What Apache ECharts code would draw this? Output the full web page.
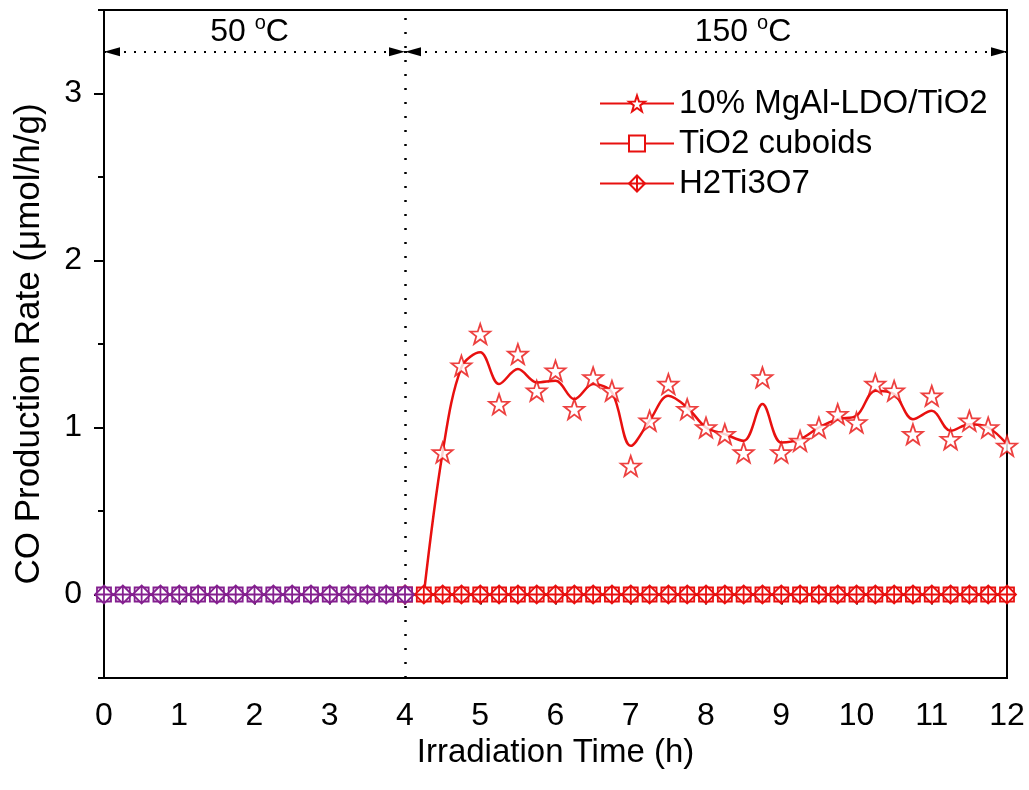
<!DOCTYPE html>
<html>
<head>
<meta charset="utf-8">
<script src="https://cdn.jsdelivr.net/npm/echarts@6/dist/echarts.min.js"></script>
<style>
  html, body { margin: 0; padding: 0; background: #fff; }
  #main { width: 1029px; height: 790px; }
</style>
</head>
<body>
<div id="main"></div>
<script>
// time axis (h) for the zero-rate samples
var times50 = [0, 0.25, 0.5, 0.75, 1, 1.25, 1.5, 1.75, 2, 2.25, 2.5, 2.75, 3, 3.25, 3.5, 3.75, 4];
var rate50 = [0, 0, 0, 0, 0, 0, 0, 0, 0, 0, 0, 0, 0, 0, 0, 0, 0];
var times150 = [4, 4.25, 4.5, 4.75, 5, 5.25, 5.5, 5.75, 6, 6.25, 6.5, 6.75, 7, 7.25, 7.5, 7.75, 8,
    8.25, 8.5, 8.75, 9, 9.25, 9.5, 9.75, 10, 10.25, 10.5, 10.75, 11, 11.25, 11.5, 11.75, 12];
var rate150 = [0, 0, 0, 0, 0, 0, 0, 0, 0, 0, 0, 0, 0, 0, 0, 0, 0,
    0, 0, 0, 0, 0, 0, 0, 0, 0, 0, 0, 0, 0, 0, 0, 0];

// 10% MgAl-LDO/TiO2 measured points (stars)
var starTimes = [4.5, 4.75, 5, 5.25, 5.5, 5.75, 6, 6.25, 6.5, 6.75, 7, 7.25, 7.5, 7.75, 8,
    8.25, 8.5, 8.75, 9, 9.25, 9.5, 9.75, 10, 10.25, 10.5, 10.75, 11, 11.25, 11.5, 11.75, 12];
var starRate = [0.85, 1.37, 1.56, 1.14, 1.44, 1.22, 1.34, 1.11, 1.30, 1.22, 0.77, 1.04, 1.26, 1.11, 1.0,
    0.96, 0.85, 1.30, 0.85, 0.92, 1.0, 1.08, 1.03, 1.26, 1.22, 0.96, 1.19, 0.93, 1.04, 1.0, 0.89];

// smoothed curve drawn through the stars
var curveTimes = [4.25, 4.5, 4.75, 5, 5.25, 5.5, 5.75, 6, 6.25, 6.5, 6.75, 7, 7.25, 7.5, 7.75, 8,
    8.25, 8.5, 8.75, 9, 9.25, 9.5, 9.75, 10, 10.25, 10.5, 10.75, 11, 11.25, 11.5, 11.75, 12];
var curveRate = [0, 0.85, 1.36, 1.45, 1.26, 1.35, 1.27, 1.28, 1.17, 1.26, 1.21, 0.89, 1.04, 1.19, 1.12, 1.0,
    0.96, 0.92, 1.14, 0.91, 0.93, 1.0, 1.05, 1.07, 1.22, 1.2, 1.05, 1.1, 0.98, 1.02, 1.0, 0.9];

var xTicks = [0, 1, 2, 3, 4, 5, 6, 7, 8, 9, 10, 11, 12];
var xMinorTicks = [0.5, 1.5, 2.5, 3.5, 4.5, 5.5, 6.5, 7.5, 8.5, 9.5, 10.5, 11.5];
var yTicks = [0, 1, 2, 3];
var yMinorTicks = [-0.5, 0.5, 1.5, 2.5, 3.5];

var switchTime = 4;
var arrowLevel = 3.25;
var legendNames = ['10% MgAl-LDO/TiO2', 'TiO2 cuboids', 'H2Ti3O7'];

var RED = '#e8100f';
var PURPLE = '#84208f';
var FONT = 'Liberation Sans, Arial, sans-serif';
var FS = 32;

var starPath = 'path://M0,-10 L2.35,-3.24 L9.51,-3.09 L3.8,1.24 L5.88,8.09 L0,4 L-5.88,8.09 L-3.8,1.24 L-9.51,-3.09 L-2.35,-3.24 Z';
var diamondPath = 'path://M0,-10 L10,0 L0,10 L-10,0 Z M0,-10 L0,10 M-10,0 L10,0';

function pairs(xs, ys) {
    return xs.map(function (x, i) { return [x, ys[i]]; });
}

var myChart = echarts.init(document.getElementById('main'));

var tempLabel = function (txt, dx) {
    return {
        show: true,
        position: 'middle',
        distance: 2,
        offset: [dx, 0],
        formatter: txt,
        color: '#000',
        fontFamily: FONT,
        fontSize: FS,
        rich: {
            s: { fontSize: 20, fontFamily: FONT, color: '#000', padding: [0, 0, 16, 0] }
        }
    };
};

var arrowEnd = function (coord, label) {
    var item = { coord: coord, symbol: 'triangle', symbolSize: [9, 16], symbolOffset: [0, 8] };
    if (label) item.label = label;
    return item;
};

option = {
    animation: false,
    backgroundColor: '#fff',
    textStyle: { fontFamily: FONT },
    grid: {
        left: 104, right: 22, top: 10, bottom: 112,
        show: true, borderColor: '#000', borderWidth: 2
    },
    legend: {
        data: legendNames,
        orient: 'vertical',
        left: 594,
        top: 82,
        itemWidth: 74,
        itemHeight: 20,
        itemGap: 7,
        textStyle: { fontSize: 33, color: '#000', fontFamily: FONT }
    },
    xAxis: [{
        type: 'value',
        min: 0, max: 12, interval: 1,
        name: 'Irradiation Time (h)',
        nameLocation: 'middle',
        nameGap: 43,
        nameTextStyle: { fontSize: 33, color: '#000', fontFamily: FONT },
        axisLine: { lineStyle: { color: '#000', width: 2 } },
        axisTick: { customValues: xTicks, length: 10, lineStyle: { color: '#000', width: 2 } },
        axisLabel: { customValues: xTicks, fontSize: FS, color: '#000', margin: 22, fontFamily: FONT },
        splitLine: { show: false }
    }, {
        type: 'value',
        min: 0, max: 12, interval: 1,
        position: 'bottom',
        axisLine: { show: false },
        axisTick: { customValues: xMinorTicks, length: 6, lineStyle: { color: '#000', width: 2 } },
        axisLabel: { show: false },
        splitLine: { show: false }
    }],
    yAxis: [{
        type: 'value',
        min: -0.5, max: 3.5, interval: 0.5,
        name: 'CO Production Rate (\u03bcmol/h/g)',
        nameLocation: 'middle',
        nameGap: 57,
        nameTextStyle: { fontSize: 35, color: '#000', fontFamily: FONT },
        axisLine: { lineStyle: { color: '#000', width: 2 } },
        axisTick: { customValues: yTicks, length: 10, lineStyle: { color: '#000', width: 2 } },
        axisLabel: {
            customValues: yTicks, fontSize: FS, color: '#000', margin: 22, fontFamily: FONT,
            formatter: function (v) { return v % 1 === 0 ? String(v) : ''; }
        },
        splitLine: { show: false }
    }, {
        type: 'value',
        min: -0.5, max: 3.5, interval: 0.5,
        position: 'left',
        axisLine: { show: false },
        axisTick: { customValues: yMinorTicks, length: 6, lineStyle: { color: '#000', width: 2 } },
        axisLabel: { show: false },
        splitLine: { show: false }
    }],
    series: [
        {
            name: legendNames[0],
            type: 'line',
            data: pairs(curveTimes, curveRate),
            smooth: 0.35,
            symbol: starPath,
            symbolSize: 20,
            showSymbol: false,
            lineStyle: { color: RED, width: 2.5 },
            itemStyle: { color: '#fff', borderColor: RED, borderWidth: 1.8 },
            z: 3
        },
        {
            name: legendNames[0],
            type: 'scatter',
            data: pairs(starTimes, starRate),
            symbol: starPath,
            symbolSize: 20,
            itemStyle: { color: '#fff', borderColor: RED, borderWidth: 1.8 },
            z: 4
        },
        {
            name: legendNames[1],
            type: 'line',
            data: pairs(times150, rate150),
            symbol: 'rect',
            symbolSize: 14,
            showAllSymbol: true,
            lineStyle: { color: RED, width: 2 },
            itemStyle: { color: '#fff', borderColor: RED, borderWidth: 1.8 },
            z: 3,
            markLine: {
                silent: true,
                symbol: 'none',
                label: { show: false },
                data: [
                    [
                        { coord: [switchTime, -0.5], symbol: 'none' },
                        { coord: [switchTime, 3.5], symbol: 'none', lineStyle: { color: '#000', width: 2.5, type: [2, 12] } }
                    ],
                    [
                        arrowEnd([0, arrowLevel], tempLabel('50 {s|o}C', -5)),
                        arrowEnd([switchTime, arrowLevel])
                    ],
                    [
                        arrowEnd([switchTime, arrowLevel], tempLabel('150 {s|o}C', 37)),
                        arrowEnd([12, arrowLevel])
                    ]
                ],
                lineStyle: { color: '#000', width: 2, type: [2, 8] },
                itemStyle: { color: '#000' }
            }
        },
        {
            name: legendNames[2],
            type: 'line',
            data: pairs(times150, rate150),
            symbol: diamondPath,
            symbolSize: 18,
            showAllSymbol: true,
            lineStyle: { color: RED, width: 2 },
            itemStyle: { color: '#fff', borderColor: RED, borderWidth: 1.8 },
            z: 3
        },
        {
            name: 'purple-rect',
            type: 'line',
            data: pairs(times50, rate50),
            symbol: 'rect',
            symbolSize: 14,
            showAllSymbol: true,
            lineStyle: { color: PURPLE, width: 2 },
            itemStyle: { color: '#fff', borderColor: PURPLE, borderWidth: 1.8 },
            z: 5
        },
        {
            name: 'purple-diamond',
            type: 'line',
            data: pairs(times50, rate50),
            symbol: diamondPath,
            symbolSize: 18,
            showAllSymbol: true,
            lineStyle: { color: PURPLE, width: 2 },
            itemStyle: { color: '#fff', borderColor: PURPLE, borderWidth: 1.8 },
            z: 5
        }
    ]
};

myChart.setOption(option);
</script>
</body>
</html>
